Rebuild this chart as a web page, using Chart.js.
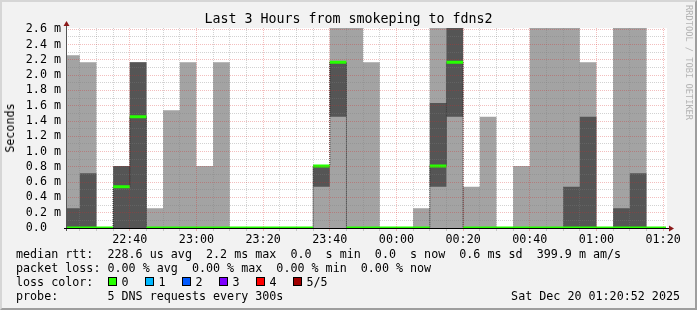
<!DOCTYPE html>
<html>
<head>
<meta charset="utf-8">
<title>Last 3 Hours from smokeping to fdns2</title>
<script src="https://cdn.jsdelivr.net/npm/chart.js@4.4.1/dist/chart.umd.min.js"></script>
<style>
  body { margin: 0; background: #ffffff; }
  #graph { position: relative; width: 697px; height: 310px; background: #f2f2f2; overflow: hidden;
           font-family: "DejaVu Sans Mono", monospace; color: #000; }
  #graph canvas { position: absolute; left: 0; top: 0; }
  .txt { position: absolute; white-space: pre; font-size: 11.7px; line-height: 14px; }
  #title { left: 0; width: 697px; top: 11px; text-align: center; font-size: 13.3px; line-height: 16px; }
  #ylabel { left: 10px; top: 128px; transform: translate(-50%, -50%) rotate(-90deg); }
  #credit { left: 684px; top: 5px; writing-mode: vertical-rl; font-size: 8.7px; line-height: 9px; color: #b4b4b4; }
  .box { position: absolute; width: 9px; height: 9px; box-sizing: border-box; border: 1px solid #000; }
  #shade { position: absolute; left: 0; top: 0; width: 697px; height: 310px; box-sizing: border-box;
           border-style: solid; border-width: 2px; border-color: #d6d6d6 #9e9e9e #9e9e9e #d6d6d6; pointer-events: none; }
</style>
</head>
<body>
<div id="graph">
  <canvas id="smoke" width="697" height="310"></canvas>
  <div class="txt" id="title">Last 3 Hours from smokeping to fdns2</div>
  <div class="txt" id="ylabel">Seconds</div>
  <div class="txt" id="credit">RRDTOOL / TOBI OETIKER</div>
  <div class="txt" style="left:16px;top:247px">median rtt:  228.6 us avg  2.2 ms max  0.0  s min  0.0  s now  0.6 ms sd  399.9 m am/s</div>
  <div class="txt" style="left:16px;top:261px">packet loss: 0.00 % avg  0.00 % max  0.00 % min  0.00 % now</div>
  <div class="txt" style="left:16px;top:275px">loss color:</div>
  <div class="txt" style="left:16px;top:289px">probe:       5 DNS requests every 300s</div>
  <div class="txt" style="right:17px;top:289px">Sat Dec 20 01:20:52 2025</div>
  <div id="shade"></div>
</div>
<script>
// 5 minute rrd steps (start of each step)
const intervals = [
  "22:20", "22:25", "22:30", "22:35", "22:40", "22:45", "22:50", "22:55",
  "23:00", "23:05", "23:10", "23:15", "23:20", "23:25", "23:30", "23:35", "23:40", "23:45", "23:50", "23:55",
  "00:00", "00:05", "00:10", "00:15", "00:20", "00:25", "00:30", "00:35", "00:40", "00:45", "00:50", "00:55",
  "01:00", "01:05", "01:10", "01:15", "01:20"
];
const windowStart = "22:20:52";
const windowEnd = "01:20:52";
const stepMinutes = 5;

// the 5 sorted pings of every step, in ms
const pingMin = [
  0, 0, 0, 0, 0,  0, 0, 0, 0, 0,  0, 0, 0, 0, 0,  0, 0, 0, 0, 0,
  0, 0, 0, 0, 0,  0, 0, 0, 0, 0,  0, 0, 0, 0, 0,  0, 0
];
const ping2 = [
  0, 0, 0, 0, 0,  0, 0, 0, 0, 0,  0, 0, 0, 0, 0,  0.54, 1.455, 0, 0, 0,
  0, 0, 0.54, 1.455, 0,  0, 0, 0, 0, 0,  0, 0, 0, 0, 0,  0, 0
];
const median = [
  0, 0, 0, 0.54, 1.455,  0, 0, 0, 0, 0,  0, 0, 0, 0, 0,  0.81, 2.17, 0, 0, 0,
  0, 0, 0.81, 2.17, 0,  0, 0, 0, 0, 0,  0, 0, 0, 0, 0,  0, 0
];
const ping4 = [
  0.26, 0.715, 0, 0.81, 2.17,  0, 0, 0, 0, 0,  0, 0, 0, 0, 0,  0.81, 2.17, 0, 0, 0,
  0, 0, 1.635, 2.62, 0,  0, 0, 0, 0, 0,  0.54, 1.455, 0, 0.26, 0.715,  0, 0
];
const pingMax = [
  2.26, 2.17, 0, 0.81, 2.17,  0.26, 1.54, 2.17, 0.81, 2.17,  0, 0, 0, 0, 0,  0.81, 2.62, 2.62, 2.17, 0,
  0, 0.26, 2.62, 2.62, 0.54,  1.455, 0, 0.81, 2.62, 2.62,  2.62, 2.17, 0, 2.62, 2.62,  0, 0
];

const xTickLabels = ["22:40", "23:00", "23:20", "23:40", "00:00", "00:20", "00:40", "01:00", "01:20"];
const yTickValues = [0, 0.2, 0.4, 0.6, 0.8, 1.0, 1.2, 1.4, 1.6, 1.8, 2.0, 2.2, 2.4, 2.6];
const yTickLabels = ["0.0  ", "0.2 m", "0.4 m", "0.6 m", "0.8 m", "1.0 m", "1.2 m", "1.4 m",
                     "1.6 m", "1.8 m", "2.0 m", "2.2 m", "2.4 m", "2.6 m"];
const yMax = 2.617;

const lossLabels = ["0", "1", "2", "3", "4", "5/5"];
const lossColors = ["#26ff00", "#00b8ff", "#0059ff", "#7e00ff", "#ff0000", "#a00000"];

const FONT = "DejaVu Sans Mono";
const GRID = "rgba(125,125,125,0.35)";
const MGRID = "rgba(215,40,40,0.3)";

// minutes after 22:00
function toMinutes(t) {
  const [h, m, s = 0] = t.split(":").map(Number);
  return ((h < 12 ? h + 24 : h) - 22) * 60 + m + s / 60;
}
const stepStarts = intervals.map(toMinutes);
const majorX = xTickLabels.map(toMinutes);

function stepPoints(values) {
  const pts = stepStarts.map((x, i) => ({ x: x, y: values[i] }));
  pts.push({ x: stepStarts[stepStarts.length - 1] + stepMinutes, y: values[values.length - 1] });
  return pts;
}

// flat median marks, one per step
const medianBars = [];
stepStarts.forEach((x, i) => {
  medianBars.push({ x: x, y: median[i] }, { x: x + stepMinutes, y: median[i] }, { x: x + stepMinutes, y: null });
});

const yGrid = [];
yTickValues.forEach((v, i) => {
  yGrid.push(v);
  if (i < yTickValues.length - 1) yGrid.push((v + yTickValues[i + 1]) / 2);
});
const near = (a, b) => Math.abs(a - b) < 1e-6;

// legend boxes for loss colors
const graph = document.getElementById("graph");
lossLabels.forEach((lbl, i) => {
  const box = document.createElement("div");
  box.className = "box";
  box.style.left = (108 + 37 * i) + "px";
  box.style.top = "277px";
  box.style.background = lossColors[i];
  graph.appendChild(box);
  const t = document.createElement("div");
  t.className = "txt";
  t.style.left = (121.5 + 37 * i) + "px";
  t.style.top = "275px";
  t.textContent = lbl;
  graph.appendChild(t);
});

// white canvas, axes and arrows like rrdtool
const rrdFrame = {
  id: "rrdFrame",
  beforeDraw(chart) {
    const { ctx, chartArea: a } = chart;
    ctx.save();
    ctx.fillStyle = "#ffffff";
    ctx.fillRect(a.left, a.top, a.right - a.left + 1, a.bottom - a.top);
    ctx.restore();
  },
  afterDraw(chart) {
    const { ctx, chartArea: a } = chart;
    ctx.save();
    ctx.lineWidth = 1;
    ctx.strokeStyle = "#555555";
    ctx.beginPath();
    ctx.moveTo(a.left + 0.5, a.bottom + 3);
    ctx.lineTo(a.left + 0.5, a.top - 3);
    ctx.stroke();
    ctx.strokeStyle = "#000000";
    ctx.beginPath();
    ctx.moveTo(a.left - 2, a.bottom + 0.5);
    ctx.lineTo(a.right + 4, a.bottom + 0.5);
    ctx.stroke();
    ctx.fillStyle = "#8b1a1a";
    ctx.beginPath();
    ctx.moveTo(a.left + 0.5, a.top - 7);
    ctx.lineTo(a.left - 2.5, a.top - 2);
    ctx.lineTo(a.left + 3.5, a.top - 2);
    ctx.closePath();
    ctx.fill();
    ctx.beginPath();
    ctx.moveTo(a.right + 8, a.bottom + 0.5);
    ctx.lineTo(a.right + 3, a.bottom - 2.5);
    ctx.lineTo(a.right + 3, a.bottom + 3.5);
    ctx.closePath();
    ctx.fill();
    ctx.restore();
  }
};

const band = { stepped: "before", pointRadius: 0, borderWidth: 0, borderColor: "transparent", fill: false };

new Chart(document.getElementById("smoke"), {
  type: "line",
  data: {
    datasets: [
      { ...band, label: "ping 1", data: stepPoints(pingMin), order: 5 },
      { ...band, label: "ping 5", data: stepPoints(pingMax), fill: { target: 0 }, backgroundColor: "#a3a3a3", order: 4 },
      { ...band, label: "ping 2", data: stepPoints(ping2), order: 3 },
      { ...band, label: "ping 4", data: stepPoints(ping4), fill: { target: 2 }, backgroundColor: "#555555", order: 2 },
      { ...band, label: "median", data: stepPoints(median), borderWidth: 1, borderColor: "#1e1e1e", borderDash: [1, 1], order: 1 },
      { label: "median loss 0", data: medianBars, pointRadius: 0, borderWidth: 3, borderColor: lossColors[0],
        fill: false, spanGaps: false, order: 0 }
    ]
  },
  options: {
    responsive: false,
    animation: false,
    devicePixelRatio: 1,
    events: [],
    layout: { padding: { left: 0, top: 28, right: 31, bottom: 0 } },
    plugins: { legend: { display: false }, tooltip: { enabled: false }, title: { display: false } },
    scales: {
      x: {
        type: "linear",
        bounds: "data",
        min: toMinutes(windowStart),
        max: toMinutes(windowEnd),
        afterBuildTicks: s => { s.ticks = stepStarts.filter(v => v > s.min && v <= s.max).map(v => ({ value: v })); },
        afterFit: s => { s.height = 82; },
        ticks: {
          autoSkip: false, maxRotation: 0, minRotation: 0, padding: 2, color: "#000",
          font: { family: FONT, size: 11.7 },
          callback: v => { const i = majorX.findIndex(m => near(m, v)); return i < 0 ? "" : xTickLabels[i]; }
        },
        grid: {
          z: 1, drawTicks: true, tickLength: 3, lineWidth: 1,
          color: c => majorX.some(m => near(m, c.tick.value)) ? MGRID : GRID,
          tickColor: c => majorX.some(m => near(m, c.tick.value)) ? MGRID : GRID
        },
        border: { display: false, dash: [1, 1] }
      },
      y: {
        bounds: "data",
        min: 0,
        max: yMax,
        afterBuildTicks: s => { s.ticks = yGrid.map(v => ({ value: v })); },
        afterFit: s => { s.width = 66; },
        ticks: {
          autoSkip: false, padding: 5, color: "#000",
          font: { family: FONT, size: 11.7 },
          callback: v => { const i = yTickValues.findIndex(t => near(t, v)); return i < 0 ? "" : yTickLabels[i]; }
        },
        grid: {
          z: 1, drawTicks: false, lineWidth: 1,
          color: c => yTickValues.some(t => near(t, c.tick.value)) ? MGRID : GRID
        },
        border: { display: false, dash: [1, 1] }
      }
    }
  },
  plugins: [rrdFrame]
});
</script>
</body>
</html>
